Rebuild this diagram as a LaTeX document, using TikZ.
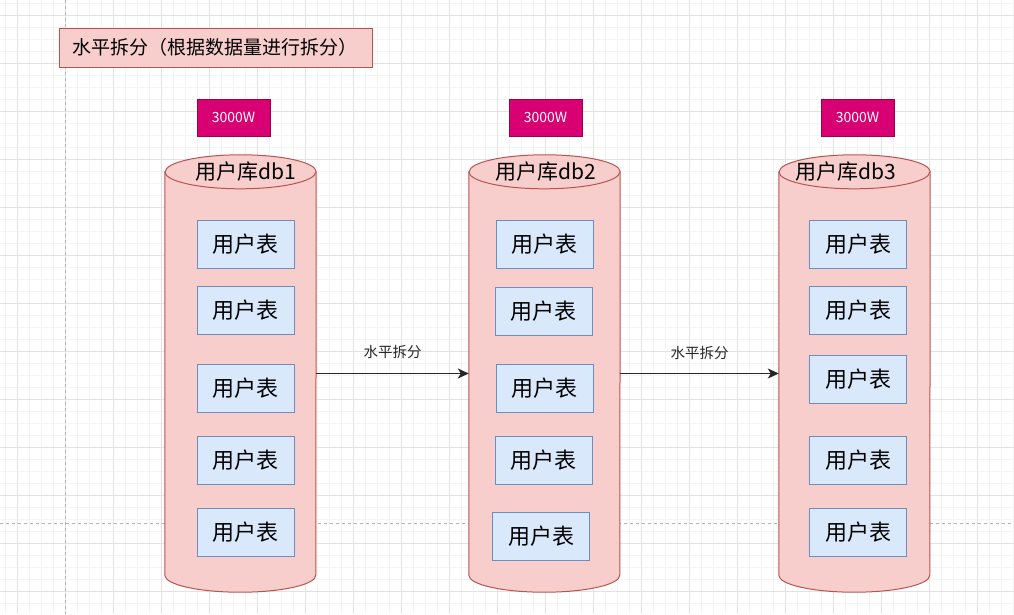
\documentclass[tikz,border=0pt]{standalone}
\usepackage{fontspec}
\setmainfont{Noto Sans CJK SC}
\usetikzlibrary{positioning, arrows.meta}
\definecolor{dbfill}{HTML}{F8CECC}
\definecolor{dbline}{HTML}{B85450}
\definecolor{tablefill}{HTML}{DAE8FC}
\definecolor{tableline}{HTML}{6C8EBF}
\definecolor{countfill}{HTML}{D80073}
\definecolor{countline}{HTML}{A50040}
\definecolor{gridminor}{HTML}{F4F4F4}
\definecolor{gridmajor}{HTML}{E2E2E2}

\begin{document}
\begin{tikzpicture}[x=1pt, y=-1pt,
    minorline/.style={gridminor, line width=0.8pt},
    majorline/.style={gridmajor, line width=0.9pt},
    pageline/.style={gray!60, dashed, line width=0.8pt},
    titlebox/.style={draw=dbline, fill=dbfill, line width=1pt, minimum height=39pt,
        text width=287pt, inner xsep=13pt, align=left, font=\fontsize{19}{23}\selectfont},
    countbox/.style={draw=countline, fill=countfill, text=white, line width=1pt,
        minimum width=73pt, minimum height=37pt, inner sep=0pt, font=\fontsize{14}{17}\selectfont},
    dbshape/.style={minimum width=151pt, minimum height=437pt, inner sep=0pt},
    dbbody/.style={draw=dbline, fill=dbfill, line width=1pt},
    dbtitle/.style={inner sep=0pt, font=\fontsize{21}{25}\selectfont},
    tablebox/.style={draw=tableline, fill=tablefill, line width=1pt,
        minimum width=97pt, minimum height=48pt, inner sep=0pt, font=\fontsize{22}{26}\selectfont},
    splitarrow/.style={-{Stealth[length=11pt, width=10pt, inset=3pt]}, line width=1.3pt, black!85},
    splitlabel/.style={font=\fontsize{14.5}{17}\selectfont, inner sep=0pt}]

\fill[white] (0,0) rectangle (1014,614);
\useasboundingbox (0,0) rectangle (1014,614);
\foreach \gx in {5,17,...,1013} \draw[minorline] (\gx,0) -- (\gx,614);
\foreach \gy in {3,15,...,611} \draw[minorline] (0,\gy) -- (1014,\gy);
\foreach \gx in {17,65,...,1013} \draw[majorline] (\gx,0) -- (\gx,614);
\foreach \gy in {15,63,...,611} \draw[majorline] (0,\gy) -- (1014,\gy);
\draw[pageline] (65,0) -- (65,614);
\draw[pageline] (0,523) -- (1014,523);

\node[titlebox] (title) at (215.5,47.5) {水平拆分（根据数据量进行拆分）};

\node[dbshape] (db1) at (240.5,373.5) {};
\node[dbshape] (db2) at (544.5,373.5) {};
\node[dbshape] (db3) at (854.5,373.5) {};
\foreach \d in {db1,db2,db3} {
    \draw[dbbody] ([yshift=-17pt]\d.north west) -- ([yshift=17pt]\d.south west)
        arc[start angle=180, end angle=360, x radius=75.5pt, y radius=17pt]
        -- ([yshift=-17pt]\d.north east)
        arc[start angle=0, end angle=180, x radius=75.5pt, y radius=17pt] -- cycle;
    \draw[dbline, line width=1pt] ([yshift=-17pt]\d.north west)
        arc[start angle=180, end angle=360, x radius=75.5pt, y radius=17pt];
}

\node[countbox] (count1) at (233.5,117.5) {3000W};
\node[countbox] (count2) at (545.5,117.5) {3000W};
\node[countbox] (count3) at (857.5,117.5) {3000W};

\node[dbtitle] (db1title) at (246,172) {用户库db1};
\node[dbtitle] (db2title) at (545.5,172) {用户库db2};
\node[dbtitle] (db3title) at (846,172) {用户库db3};

\foreach \tx/\ty [count=\i] in {245.5/244, 245.5/310, 245.5/388, 245.5/460, 245.5/532}
    \node[tablebox] (table1\i) at (\tx,\ty) {用户表};
\foreach \tx/\ty [count=\i] in {544.5/244, 543.5/311, 544.5/388, 543.5/460, 541/536}
    \node[tablebox] (table2\i) at (\tx,\ty) {用户表};
\foreach \tx/\ty [count=\i] in {858/244, 858/310, 858/379, 858/460, 858/532}
    \node[tablebox] (table3\i) at (\tx,\ty) {用户表};

\draw[splitarrow] (db1) -- node[splitlabel, midway, yshift=21pt] {水平拆分} (db2);
\draw[splitarrow] (db2) -- node[splitlabel, midway, yshift=20pt] {水平拆分} (db3);
\end{tikzpicture}
\end{document}
